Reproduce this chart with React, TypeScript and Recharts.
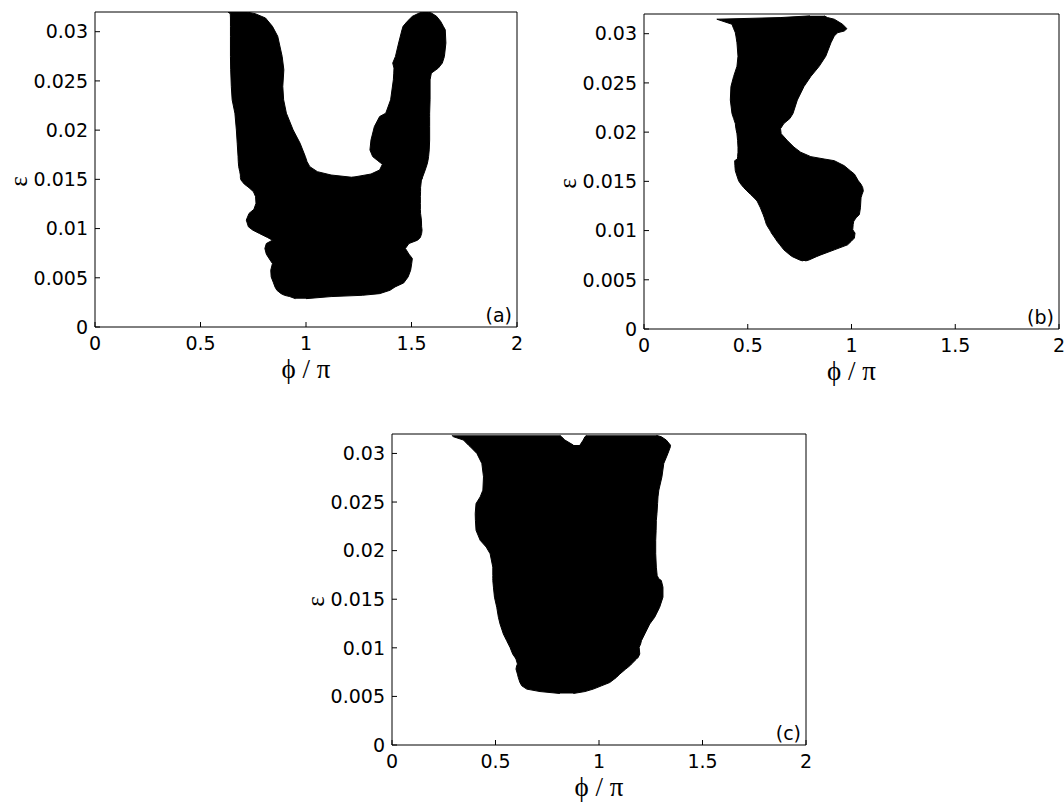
import { ComposedChart, Area, XAxis, YAxis, ReferenceArea } from "recharts"

const PHI_TICKS = [0, 0.5, 1, 1.5, 2]
const EPS_TICKS = [0, 0.005, 0.01, 0.015, 0.02, 0.025, 0.03]

// (a) body and left arm: eps level, left edge, right edge (phi / pi)
const EPS_A1 = [
  0.00288, 0.00309, 0.00322, 0.00339, 0.00373, 0.00407, 0.00448, 0.00509, 0.00577, 0.00645,
  0.00696, 0.0074, 0.00798, 0.00848, 0.00882, 0.0091, 0.0095, 0.00984, 0.01018, 0.01086,
  0.01154, 0.01195, 0.01256, 0.01324, 0.01374, 0.01415, 0.01453, 0.01493, 0.01518, 0.01521,
  0.01544, 0.01578, 0.01629, 0.0168, 0.01731, 0.01867, 0.02002, 0.02172, 0.02308, 0.02444,
  0.02613, 0.02749, 0.02953, 0.03054, 0.03139, 0.03183, 0.032,
]
const LO_A1 = [
  0.95, 0.923, 0.898, 0.882, 0.862, 0.853, 0.846, 0.835, 0.833, 0.841,
  0.825, 0.812, 0.805, 0.812, 0.841, 0.817, 0.779, 0.748, 0.727, 0.717,
  0.73, 0.753, 0.763, 0.761, 0.751, 0.73, 0.707, 0.692, 0.689, 0.689,
  0.689, 0.686, 0.681, 0.679, 0.678, 0.674, 0.67, 0.663, 0.65, 0.646,
  0.643, 0.642, 0.642, 0.642, 0.642, 0.641, 0.63,
]
const HI_A1 = [
  1.0, 1.119, 1.267, 1.349, 1.398, 1.422, 1.463, 1.484, 1.496, 1.501,
  1.504, 1.488, 1.471, 1.488, 1.529, 1.542, 1.548, 1.55, 1.548, 1.547,
  1.543, 1.542, 1.542, 1.542, 1.543, 1.543, 1.545, 1.547, 1.552, 1.218,
  1.119, 1.054, 1.018, 1.005, 0.997, 0.972, 0.939, 0.907, 0.894, 0.89,
  0.895, 0.887, 0.866, 0.841, 0.808, 0.759, 0.72,
]

// (a) right arm
const EPS_A2 = [
  0.01493, 0.0152, 0.01554, 0.01595, 0.01653, 0.0169, 0.01731, 0.01799, 0.019, 0.02036,
  0.02138, 0.02172, 0.02308, 0.02511, 0.02579, 0.0263, 0.02681, 0.02749, 0.02885, 0.0302,
  0.03054, 0.03105, 0.03156, 0.0319, 0.032,
]
const LO_A2 = [
  1.3, 1.218, 1.308, 1.349, 1.362, 1.34, 1.316, 1.303, 1.308, 1.324,
  1.349, 1.378, 1.401, 1.414, 1.416, 1.417, 1.411, 1.424, 1.439, 1.455,
  1.46, 1.48, 1.504, 1.537, 1.553,
]
const HI_A2 = [
  1.547, 1.552, 1.558, 1.565, 1.574, 1.578, 1.581, 1.584, 1.586, 1.586,
  1.586, 1.586, 1.588, 1.588, 1.594, 1.627, 1.646, 1.656, 1.663, 1.66,
  1.651, 1.638, 1.619, 1.594, 1.578,
]

// (b)
const EPS_B = [
  0.00691, 0.00701, 0.00735, 0.00753, 0.00804, 0.00855, 0.00889, 0.00924, 0.00975, 0.00992,
  0.01009, 0.01061, 0.01095, 0.01129, 0.01163, 0.01231, 0.013, 0.01334, 0.01368, 0.01403,
  0.01437, 0.01471, 0.01505, 0.01574, 0.01608, 0.01659, 0.0171, 0.01727, 0.01751, 0.01796,
  0.01847, 0.01916, 0.01984, 0.02035, 0.02087, 0.02138, 0.02189, 0.02326, 0.02463, 0.02566,
  0.02668, 0.02771, 0.02908, 0.02976, 0.0301, 0.03027, 0.03051, 0.03096, 0.03147, 0.03164,
  0.03181,
]
const LO_B = [
  0.765, 0.75, 0.715, 0.703, 0.674, 0.655, 0.642, 0.631, 0.614, 0.61,
  0.605, 0.59, 0.585, 0.58, 0.574, 0.561, 0.545, 0.53, 0.513, 0.496,
  0.48, 0.467, 0.456, 0.445, 0.44, 0.438, 0.437, 0.45, 0.451, 0.453,
  0.453, 0.451, 0.448, 0.443, 0.44, 0.432, 0.424, 0.416, 0.419, 0.432,
  0.448, 0.453, 0.448, 0.443, 0.44, 0.437, 0.432, 0.424, 0.351, 0.66,
  0.8,
]
const HI_B = [
  0.778, 0.795, 0.831, 0.852, 0.917, 0.981, 0.998, 1.014, 1.017, 1.011,
  1.006, 1.008, 1.011, 1.022, 1.038, 1.043, 1.045, 1.046, 1.051, 1.057,
  1.054, 1.046, 1.033, 1.014, 0.994, 0.965, 0.917, 0.868, 0.804, 0.755,
  0.723, 0.69, 0.661, 0.658, 0.674, 0.703, 0.718, 0.739, 0.771, 0.804,
  0.844, 0.876, 0.901, 0.917, 0.933, 0.965, 0.978, 0.957, 0.917, 0.884,
  0.868,
]

// (c) main body, then the two lobes either side of the notch at the top
const EPS_C1 = [
  0.0053, 0.0055, 0.00575, 0.00609, 0.00643, 0.00695, 0.00729, 0.00781, 0.00815, 0.00833,
  0.00884, 0.00901, 0.00936, 0.01005, 0.01039, 0.01073, 0.01142, 0.01245, 0.01314, 0.01417,
  0.01521, 0.01624, 0.01693, 0.0171, 0.01744, 0.0183, 0.01968, 0.02037, 0.02106, 0.02209,
  0.02312, 0.02381, 0.02484, 0.02553, 0.02622, 0.02759, 0.02897, 0.03, 0.03069, 0.03086,
]
const LO_C1 = [
  0.811, 0.715, 0.651, 0.627, 0.618, 0.61, 0.606, 0.599, 0.602, 0.606,
  0.599, 0.594, 0.583, 0.57, 0.562, 0.554, 0.538, 0.522, 0.514, 0.506,
  0.495, 0.49, 0.487, 0.487, 0.487, 0.487, 0.474, 0.455, 0.426, 0.406,
  0.403, 0.402, 0.406, 0.426, 0.439, 0.442, 0.434, 0.41, 0.378, 0.369,
]
const HI_C1 = [
  0.876, 0.932, 0.972, 1.012, 1.052, 1.084, 1.1, 1.129, 1.149, 1.157,
  1.181, 1.189, 1.197, 1.194, 1.201, 1.205, 1.221, 1.245, 1.269, 1.293,
  1.309, 1.309, 1.301, 1.289, 1.281, 1.277, 1.274, 1.274, 1.274, 1.276,
  1.277, 1.28, 1.283, 1.285, 1.289, 1.304, 1.313, 1.333, 1.345, 1.345,
]
const EPS_C2 = [0.03086, 0.03138, 0.03172, 0.03186]
const LO_C2 = [0.369, 0.345, 0.297, 0.289]
const HI_C2 = [0.876, 0.835, 0.819, 0.811]
const LO_C3 = [0.908, 0.924, 0.932, 0.94]
const HI_C3 = [1.345, 1.325, 1.301, 1.277]

type Pt = { e: number; r: [number, number] }
const band = (eps: number[], lo: number[], hi: number[]): Pt[] =>
  eps.map((e, i) => ({ e, r: [lo[i], hi[i]] }))

const TEXT = { fill: "#000", fontSize: 19, fontFamily: "DejaVu Sans, sans-serif" }
const SYMBOL_FONT = "Liberation Serif, DejaVu Serif, serif"

const EpsLabel = (props: any) => {
  const vb = props.viewBox
  const x = vb.x + 18
  const y = vb.y + vb.height / 2 + 12
  return (
    <text x={x} y={y} transform={`rotate(-90 ${x} ${y})`} textAnchor="middle"
      dominantBaseline="central" fontSize={25} fontFamily={SYMBOL_FONT} fill="#000">
      ε
    </text>
  )
}

interface PanelProps {
  left: number
  top: number
  width: number
  height: number
  marginTop: number
  marginRight: number
  axisH: number
  tag: string
  regions: Pt[][]
}

function Panel({ left, top, width, height, marginTop, marginRight, axisH, tag, regions }: PanelProps) {
  return (
    <div style={{ position: "absolute", left, top }}>
      <ComposedChart
        layout="vertical"
        width={width}
        height={height}
        margin={{ top: marginTop - 1, right: marginRight - 1, bottom: 0, left: 0 }}
      >
        <XAxis
          xAxisId="b" type="number" orientation="bottom" domain={[0, 2]} allowDataOverflow
          ticks={PHI_TICKS} interval={0} height={axisH} stroke="#000"
          tickSize={-5} tickMargin={15} tick={TEXT}
          label={{ value: "ϕ / π", position: "insideBottom", offset: axisH - 51, fontSize: 27, fill: "#000", fontFamily: SYMBOL_FONT }}
        />
        <XAxis
          xAxisId="t" type="number" orientation="top" domain={[0, 2]} allowDataOverflow
          ticks={PHI_TICKS} interval={0} height={1} stroke="#000" tickSize={-5} tick={false}
        />
        <YAxis
          yAxisId="l" type="number" dataKey="e" domain={[0, 0.032]} allowDataOverflow reversed
          ticks={EPS_TICKS} interval={0} width={95} stroke="#000"
          tickSize={-5} tickMargin={12} tick={TEXT}
          label={{ content: EpsLabel }}
        />
        <YAxis
          yAxisId="r" type="number" orientation="right" domain={[0, 0.032]} allowDataOverflow reversed
          ticks={EPS_TICKS} interval={0} width={1} stroke="#000" tickSize={-5} tick={false}
        />
        {regions.map((d, i) => (
          <Area
            key={i} data={d} dataKey="r" xAxisId="b" yAxisId="l" type="linear"
            fill="#000" fillOpacity={1} stroke="#000" strokeWidth={1}
            dot={false} activeDot={false} isAnimationActive={false}
          />
        ))}
        <ReferenceArea
          xAxisId="b" yAxisId="l" x1={0} x2={2} y1={0} y2={0.032}
          fill="none" stroke="none" ifOverflow="visible"
          label={{ value: tag, position: "insideBottomRight", offset: 5, ...TEXT }}
        />
      </ComposedChart>
    </div>
  )
}

export default function App() {
  return (
    <div style={{ position: "absolute", left: 0, top: 0, width: 1064, height: 804, background: "#fff", fontFamily: "DejaVu Sans, sans-serif" }}>
      <Panel left={0} top={0} width={540} height={400} marginTop={12} marginRight={23} axisH={73}
        tag="(a)" regions={[band(EPS_A1, LO_A1, HI_A1), band(EPS_A2, LO_A2, HI_A2)]} />
      <Panel left={549} top={0} width={515} height={402} marginTop={14} marginRight={5} axisH={73}
        tag="(b)" regions={[band(EPS_B, LO_B, HI_B)]} />
      <Panel left={297} top={422} width={519} height={382} marginTop={12} marginRight={10} axisH={59}
        tag="(c)" regions={[band(EPS_C1, LO_C1, HI_C1), band(EPS_C2, LO_C2, HI_C2), band(EPS_C2, LO_C3, HI_C3)]} />
    </div>
  )
}
